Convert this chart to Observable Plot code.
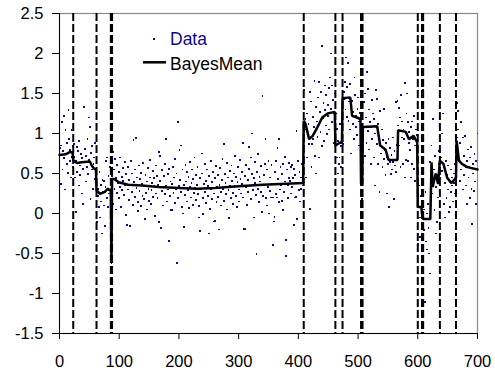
<!DOCTYPE html>
<html>
<head>
<meta charset="utf-8">
<script src="https://cdn.jsdelivr.net/npm/d3@7"></script>
<script src="https://cdn.jsdelivr.net/npm/@observablehq/plot@0.6"></script>
<style>
  html, body { margin: 0; padding: 0; background: #fff; }
  #wrap { position: relative; width: 495px; height: 373px; }
  #legend { position: absolute; left: 0; top: 0; pointer-events: none; }
</style>
</head>
<body>
<div id="wrap"></div>
<script>
// ---- Data (y values for x = 1 .. 700) ----
const segA = [0.82, 0.37, 0.85, 1.14, 0.55, 0.78, 1.22, 0.69, 0.30, 1.04, 0.74, 0.62, 0.88, 0.51, 1.29, 0.93, 0.66, 0.79, 0.45, 1.04, 0.71, 0.84, 0.58];
const segB = [0.87, 0.71, 0.45, 0.02, 0.66, 0.83, 0.52, 0.78, 0.35, 0.91, 0.60, 0.48, 0.74, 0.25, 0.69, 0.12, 0.56, 1.33, 0.81, 0.64, 0.40, 0.72, 0.58, 0.93, 0.49, 1.20, 0.67, 1.08, 0.18, 0.76, 0.55, 0.84, 0.31, 0.62, 0.70, 0.43, 0.88, 0.52];
const segC = [0.45, -0.11, 0.31, 0.22, 0.08, 0.52, -0.05, 0.36, 0.15, -0.25, 0.42, 0.27, 0.41, 0.10, -0.16, 0.33, 0.66, 0.19, 0.70, 0.08, 0.47, 0.25, 0.58, 0.29, 0.38, -0.62];
const segD = [
  0.47, 0.77, 0.12, 0.55, 0.31, 0.68, 0.05, 0.44, 0.26, 0.61, 0.38, 0.19, 0.52, 0.70, 0.33, 0.08, 0.46, 0.29, 0.57, 0.41,
  0.23, 0.64, 0.35, -0.02, 0.49, -0.14, 0.30, 0.58, 0.17, 0.42, -0.16, 0.36, 0.66, 0.27, 0.50, 0.11, 0.92, 0.39, 0.21, 0.55,
  0.94, 0.32, 0.45, 0.14, 0.03, 0.60, 0.28, 0.43, 0.09, 0.51, 0.37, 0.22, 0.63, 0.34, 0.18, -0.07, 0.48, 0.26, 0.05, 0.40,
  0.57, 0.31, 0.16, 0.45, 0.67, 0.12, 0.29, 0.38, 0.53, 0.21, 0.44, 0.35, -0.03, 0.60, 0.25, 0.47, 0.19, 0.36, 0.77, -0.11,
  0.72, 0.41, -0.18, 0.28, 0.54, 0.33, 0.10, 0.47, 0.24, 0.62, 0.93, 0.35, 0.15, 0.49, 0.30, -0.34, 0.56, 0.22, 0.40, 0.04,
  0.37, 0.04, 0.58, 0.26, 0.45, 0.13, 0.68, 0.31, 0.50, -0.62, 0.19, 1.14, 0.34, 0.79, 0.42, 0.85, 0.27, 0.08, 0.55, 0.00,
  0.36, -0.17, 0.23, 0.61, 0.40, 0.15, 0.52, 0.29, 0.46, 0.07, 0.33, 0.64, 0.20, 0.38, 0.55, 0.11, 0.43, 0.26, 0.70, 0.32,
  0.17, 0.48, 0.36, 0.58, 0.24, 0.09, -0.05, 0.44, -0.22, 0.31, 0.75, 0.50, 0.19, -0.01, 0.37, 0.62, 0.27, 0.13, 0.41, 0.55,
  0.22, 0.34, -0.25, 0.47, 0.06, 0.30, 0.66, 0.18, 0.39, 0.52, -0.10, 0.25, -0.09, 0.44, 0.59, 0.14, 0.33, 0.48, 0.21, -0.20,
  0.36, 0.57, 0.27, 0.10, 0.42, 0.68, 0.31, 0.87, 0.16, 0.49, 0.38, 0.24, 0.63, 0.05, 0.45, 0.29, -0.06, 0.53, 0.34, 0.19,
  0.60, 0.41, 0.26, 0.12, 0.50, 0.35, 0.72, 0.22, 0.46, 0.08, 0.39, 0.58, 0.30, 0.15, 0.67, 0.43, 0.25, 0.52, 0.37, 0.88,
  0.20, -0.19, 0.47, -0.19, 0.33, 0.61, 0.11, 0.42, 0.27, 0.83, 0.56, 0.35, 0.70, 0.18, 0.49, 1.00, 0.29, 0.44, -0.05, 0.64,
  0.38, 0.23, -0.51, 0.52, 0.31, 0.74, 0.14, 0.46, 0.40, 0.59, 0.27, 0.02, 1.47, 0.22, 0.48, 0.36, 0.62, 0.93, 0.19, 0.10,
  0.55, 0.33, 0.66, 0.00, 0.45, 0.28, 0.20, 0.61, 0.37, -0.39, 0.20, -0.10, -0.04, 0.52, 0.66, 0.24, 0.20, 0.82, 0.43, 0.14,
  0.93, 0.30, 0.58, 0.35, 0.16, 0.49, 0.62, 0.04, 0.27, 0.40, 0.71, -0.33, -0.53, 0.55, 0.19, 0.36, 0.63, 0.44, 0.41, 0.25,
  0.58, 0.33, 0.61, 0.44, 0.56, -0.14, 0.20, 0.48, 0.21, 1.03, -0.07, 0.38, 0.66, 0.29, 0.52, 0.15, 0.31, 0.45, 0.62, 0.35,
  0.42];
const segE = [1.31, 1.54, 1.05, 1.18, 0.45, 1.25, 0.70, 0.98, 1.12, 0.87, 1.52, 0.06, 1.40, 0.58, 0.87, 1.21, 0.93, 1.08, 1.66, 0.72, 1.33, 0.50, 1.15, 0.96, 1.45, 1.64, 0.70, 1.27, 1.02, 1.52, 0.84, 2.09, 1.19, 1.38, 0.91, 1.60, 1.29, 1.10, 1.48, 0.99, 1.36, 1.22, 1.57, 1.05, 1.70, 1.31, 2.00, 1.14, 1.60, 1.42, 0.88, 1.26, 1.50];
const segF = [0.95, 1.25, 0.70, 1.06, 0.50, 0.91, 0.62, 0.70, 1.12, 0.84, 0.58, 0.98];
const segG = [1.80, 0.87, 1.52, 1.43, 1.64, 1.30, 1.95, 1.21, 1.58, 1.88, 1.16, 1.40, 1.05, 1.62, 0.75, 1.35, 1.41, 1.12, 1.27, 0.93, 1.70, 1.48, 1.08, 1.22, 0.98, 1.31, 1.45, 1.15, 0.85, 1.26, 1.10];
const segH = [0.55, 0.18, 0.38];
const segI = [
  1.08, 0.95, 1.39, 0.72, 1.50, 1.20, 0.88, 1.77, 1.03, 1.56, 0.80, 1.30, 1.14, 0.62, 1.08, 1.42, 0.93, 1.25, 0.70, 1.18,
  1.00, 0.35, 1.54, 0.87, 1.43, 1.12, 0.62, 0.95, 0.27, 1.28, 0.85, 0.75, 1.05, 0.58, 0.92, 0.68, 1.31, 0.79, 0.48, 0.88,
  0.70, 0.25, 0.62, 0.93, 0.08, 0.82, 0.64, 0.49, 0.73, 0.55, 0.95, 0.64, 0.18, 0.78, 0.60, 1.39, 0.52, 0.86, 1.41, 1.10,
  1.32, 0.85, 1.20, 0.58, 1.48, 0.95, 1.15, 0.62, 1.05, 0.93, 0.45, 1.63, 0.67, 1.25, 1.50, 0.66, 1.14, 0.88, 1.02, 0.79,
  1.08, 0.45, 0.62, 1.15, 0.93, 0.56, 1.22, 0.41, 0.85, 1.05, 0.70, 0.98];
const segJ = [-0.38, 0.14, 0.35, -0.05, -0.29, 0.22, -0.30, 1.64, -0.12, 1.54, 0.05, -0.21, -1.11, 0.27, -0.35, 0.00, -0.45, 0.12, -0.18, -0.50, -0.75];
const segK = [0.64, 0.10, 0.85, 0.25, 1.18, 0.40, 0.55, 0.04, 0.72, -0.25, 0.33, -0.11, 0.48, 0.20, 0.78, 0.62, 0.91, 0.45, 0.70, 1.00, 0.53, 1.25, 0.60, 0.12, 0.38, -0.05, 0.66, 0.19, 0.48, 0.30, 0.60, 0.02, 0.42, 0.08, 0.55, 0.27, 0.45, 0.35, 0.15, 0.50, 0.38, 0.62, 0.25, 0.47];
const segL = [1.38, 0.95, 1.05, 1.28, 0.66, 0.41, 0.88, 0.55, 1.14, 0.62, 0.30, 0.95, 0.48, 0.72, 0.97, 0.58, 0.35, 0.66, 0.12, 0.80, 0.45, 0.58, 0.19, 0.70, 0.83, 0.31, -0.13, 0.62, 0.50, 0.28, 0.74, 0.40, 0.12, 0.66, 0.55, 1.00];

// BayesMean (posterior mean) trace
const meanX = [0, 10, 18, 22, 23, 30, 37, 51, 54, 58, 61, 62, 68, 76, 81, 84, 86, 87, 88, 92, 99, 115, 138, 166, 200, 230, 260, 300, 340, 370, 408, 409, 412, 418, 424, 432, 440, 449, 461, 462, 471, 473, 474, 487, 490, 498, 504, 505, 507, 508, 532, 537, 546, 551, 566, 567, 580, 585, 593, 599, 600, 606, 607, 609, 618, 621, 623, 625, 630, 634, 637, 643, 649, 656, 661, 664, 665, 669, 674, 683, 700];
const meanY = [0.73, 0.74, 0.77, 0.76, 0.66, 0.63, 0.64, 0.65, 0.60, 0.56, 0.55, 0.29, 0.245, 0.27, 0.31, 0.29, 0.30, -0.62, 0.43, 0.43, 0.39, 0.36, 0.35, 0.33, 0.32, 0.31, 0.32, 0.34, 0.36, 0.37, 0.38, 1.16, 1.12, 0.93, 0.97, 1.08, 1.20, 1.25, 1.27, 0.85, 0.89, 0.88, 1.44, 1.45, 1.22, 1.20, 1.18, 0.37, 0.37, 1.08, 1.09, 0.85, 0.80, 0.67, 0.67, 1.04, 1.02, 0.93, 0.97, 0.89, 0.08, 0.08, 0.0, -0.07, -0.07, -0.07, 0.64, 0.33, 0.50, 0.37, 0.66, 0.62, 0.45, 0.38, 0.42, 0.45, 0.91, 0.66, 0.62, 0.58, 0.55];

// Change points (vertical dashed lines)
const changepoints = [23, 62, 86, 88, 409, 462, 474, 505, 507.5, 600, 607, 609, 637, 664];

const xTicks = [0, 100, 200, 300, 400, 500, 600, 700];
const yTicks = [-1.5, -1, -0.5, 0, 0.5, 1, 1.5, 2, 2.5];

const dataY = [].concat(segA, segB, segC, segD, segE, segF, segG, segH, segI, segJ, segK, segL);
const points = dataY.map((y, i) => ({x: i + 1, y}));
const mean = meanX.map((x, i) => ({x, y: meanY[i]}));

const navy = "#0c0c88";

const chart = Plot.plot({
  width: 495,
  height: 373,
  marginLeft: 59,
  marginRight: 18,
  marginTop: 13,
  marginBottom: 40,
  style: {fontFamily: "'Liberation Sans', Arial, sans-serif", fontSize: "16.5px", color: "black", background: "white", overflow: "visible"},
  x: {domain: [0, 700]},
  y: {domain: [-1.5, 2.5]},
  marks: [
    Plot.frame({stroke: "#8a8a8a", strokeWidth: 1.2}),
    Plot.dot(points, {x: "x", y: "y", r: 1.05, symbol: "square", fill: navy, stroke: null, shapeRendering: "crispEdges"}),
    Plot.ruleX(changepoints, {stroke: "black", strokeWidth: 2, strokeDasharray: "8,3"}),
    Plot.line(mean, {x: "x", y: "y", stroke: "black", strokeWidth: 2.5, strokeLinejoin: "miter"}),
    Plot.ruleX([0], {stroke: "black", strokeWidth: 1}),
    Plot.ruleY([-1.5], {stroke: "black", strokeWidth: 1}),
    Plot.axisX({ticks: xTicks, tickSize: 6, tickPadding: 16, tickFormat: d => String(d), label: null, fontSize: 16.5}),
    Plot.axisY({ticks: yTicks, tickSize: 7, tickPadding: 9, tickFormat: d => String(d), label: null, fontSize: 16.5})
  ]
});

const wrap = document.getElementById("wrap");
wrap.appendChild(chart);

// Legend overlay
const ns = "http://www.w3.org/2000/svg";
const leg = document.createElementNS(ns, "svg");
leg.setAttribute("id", "legend");
leg.setAttribute("width", 495);
leg.setAttribute("height", 373);
leg.innerHTML = `
  <rect x="153" y="38" width="2" height="2" fill="${navy}"></rect>
  <text x="170" y="44.5" font-family="'Liberation Sans', Arial, sans-serif" font-size="17.5" fill="${navy}">Data</text>
  <line x1="143" y1="62.3" x2="166" y2="62.3" stroke="black" stroke-width="2.5"></line>
  <text x="170" y="70" font-family="'Liberation Sans', Arial, sans-serif" font-size="17.5" fill="black">BayesMean</text>
`;
wrap.appendChild(leg);
</script>
</body>
</html>
